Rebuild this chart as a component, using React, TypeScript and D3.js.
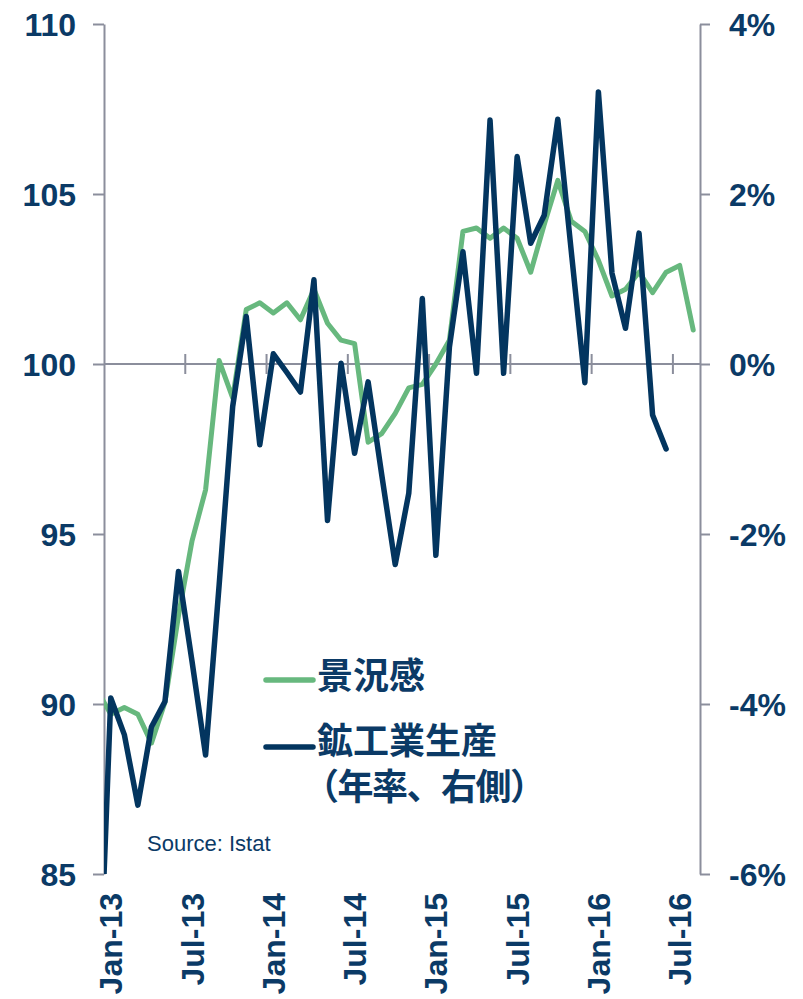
import React, { useEffect, useRef } from 'react';
import * as d3 from 'd3';

// monthly data, first entry is Dec-12 (index -1), clipped by the plot edge
const startIndex = -1;
const sentiment = [
  90.4, 89.7, 89.9, 89.7, 88.85, 90.05, 92.6, 94.8, 96.3, 100.1, 99.0, 101.6, 101.8,
  101.5, 101.8, 101.3, 102.2, 101.2, 100.7, 100.6, 97.7, 97.95, 98.55, 99.3, 99.4,
  100.0, 100.7, 103.9, 104.0, 103.7, 104.0, 103.7, 102.7, 104.1, 105.4, 104.2, 103.9,
  103.05, 102.0, 102.2, 102.7, 102.1, 102.7, 102.9, 101.0,
];
const production = [
  -8.1, -3.93, -4.36, -5.19, -4.27, -3.97, -2.44, -3.5, -4.6, -2.6, -0.5, 0.56, -0.95,
  0.12, -0.1, -0.33, 0.99, -1.84, 0.01, -1.05, -0.21, -1.3, -2.36, -1.52, 0.77,
  -2.25, 0.2, 1.32, -0.11, 2.87, -0.11, 2.44, 1.42, 1.75, 2.88, 1.32, -0.22,
  3.2, 1.07, 0.42, 1.54, -0.6, -1.0,
];
const tickLabels = ['Jan-13', 'Jul-13', 'Jan-14', 'Jul-14', 'Jan-15', 'Jul-15', 'Jan-16', 'Jul-16'];
const leftTicks = [85, 90, 95, 100, 105, 110];
const rightTicks = [-6, -4, -2, 0, 2, 4];

const NAVY = '#0b3a66';
const LINE_NAVY = '#03355f';
const GREEN = '#67b87e';
const GREY = '#8b8e9c';
const LATIN = '"Liberation Sans", Arial, sans-serif';
const CJK = '"Noto Sans CJK JP", "Noto Sans CJK SC", sans-serif';

const App = () => {
  const svgRef = useRef<SVGSVGElement>(null);

  useEffect(() => {
    const width = 803;
    const height = 999;
    const svg = d3.select(svgRef.current).attr('width', width).attr('height', height);
    svg.selectAll('*').remove();

    const left = 104, right = 700, top = 24, bottom = 874;

    const x = d3.scaleLinear().domain([-0.5, 43.5]).range([left, right]);
    const yL = d3.scaleLinear().domain([85, 110]).range([bottom, top]);
    const yR = d3.scaleLinear().domain([-6, 4]).range([bottom, top]);

    svg.append('defs').append('clipPath').attr('id', 'plot')
      .append('rect')
      .attr('x', left).attr('y', top)
      .attr('width', right - left).attr('height', bottom - top);

    // left axis
    const gl = svg.append('g').attr('transform', `translate(${left},0)`);
    gl.call(d3.axisLeft(yL).tickValues(leftTicks).tickSize(11).tickSizeOuter(0).tickFormat(d3.format('d')));
    gl.select('.domain').attr('stroke', GREY).attr('stroke-width', 2);
    gl.selectAll('.tick line').attr('stroke', GREY).attr('stroke-width', 2);
    gl.selectAll('.tick text')
      .attr('x', -28).attr('dy', '0.36em')
      .attr('fill', NAVY).attr('font-family', LATIN).attr('font-weight', 'bold').attr('font-size', 32);

    // right axis
    const gr = svg.append('g').attr('transform', `translate(${right},0)`);
    gr.call(d3.axisRight(yR).tickValues(rightTicks).tickSize(10).tickSizeOuter(0).tickFormat((d) => `${d}%`));
    gr.select('.domain').attr('stroke', GREY).attr('stroke-width', 2);
    gr.selectAll('.tick line').attr('stroke', GREY).attr('stroke-width', 2);
    gr.selectAll('.tick text')
      .attr('x', 29).attr('dy', '0.36em')
      .attr('fill', NAVY).attr('font-family', LATIN).attr('font-weight', 'bold').attr('font-size', 32);

    // horizontal category axis at 100 / 0%
    const zeroY = yR(0);
    svg.append('line')
      .attr('x1', left).attr('x2', right).attr('y1', zeroY).attr('y2', zeroY)
      .attr('stroke', GREY).attr('stroke-width', 2);
    svg.append('g').selectAll('line')
      .data(d3.range(1, 8))
      .enter()
      .append('line')
      .attr('x1', (k) => x(k * 6 - 0.5)).attr('x2', (k) => x(k * 6 - 0.5))
      .attr('y1', zeroY - 10).attr('y2', zeroY + 10)
      .attr('stroke', GREY).attr('stroke-width', 2);

    // bottom labels
    svg.append('g').selectAll('text')
      .data(tickLabels)
      .enter()
      .append('text')
      .attr('transform', (d, i) => `translate(${x(i * 6) + 11.5},893) rotate(-90)`)
      .attr('text-anchor', 'end')
      .attr('fill', NAVY).attr('font-family', LATIN).attr('font-weight', 'bold').attr('font-size', 32)
      .text((d) => d);

    const plot = svg.append('g').attr('clip-path', 'url(#plot)');

    const greenLine = d3.line<number>()
      .x((d, i) => x(i + startIndex))
      .y((d) => yL(d));
    plot.append('path')
      .attr('d', greenLine(sentiment))
      .attr('fill', 'none').attr('stroke', GREEN).attr('stroke-width', 5)
      .attr('stroke-linejoin', 'round').attr('stroke-linecap', 'round');

    const navyLine = d3.line<number>()
      .x((d, i) => x(i + startIndex))
      .y((d) => yR(d));
    plot.append('path')
      .attr('d', navyLine(production))
      .attr('fill', 'none').attr('stroke', LINE_NAVY).attr('stroke-width', 5.5)
      .attr('stroke-linejoin', 'round').attr('stroke-linecap', 'round');

    // legend
    const legend = svg.append('g');
    legend.append('line')
      .attr('x1', 266).attr('x2', 313).attr('y1', 680).attr('y2', 680)
      .attr('stroke', GREEN).attr('stroke-width', 5.5).attr('stroke-linecap', 'round');
    legend.append('line')
      .attr('x1', 266).attr('x2', 313).attr('y1', 747).attr('y2', 747)
      .attr('stroke', LINE_NAVY).attr('stroke-width', 5.5).attr('stroke-linecap', 'round');
    legend.append('text')
      .attr('x', 317).attr('y', 689)
      .attr('fill', NAVY).attr('font-family', CJK).attr('font-weight', 'bold').attr('font-size', 36)
      .text('景況感');
    const t2 = legend.append('text')
      .attr('fill', NAVY).attr('font-family', CJK).attr('font-weight', 'bold').attr('font-size', 36);
    t2.append('tspan').attr('x', 317).attr('y', 754).text('鉱工業生産');
    t2.append('tspan').attr('x', 303).attr('y', 800).attr('letter-spacing', -1.5).text('（年率、右側）');

    svg.append('text')
      .attr('x', 147).attr('y', 851)
      .attr('fill', NAVY).attr('font-family', LATIN).attr('font-size', 22)
      .text('Source: Istat');
  }, []);

  return <svg ref={svgRef} style={{ position: 'absolute', left: 0, top: 0 }} />;
};

export default App;
